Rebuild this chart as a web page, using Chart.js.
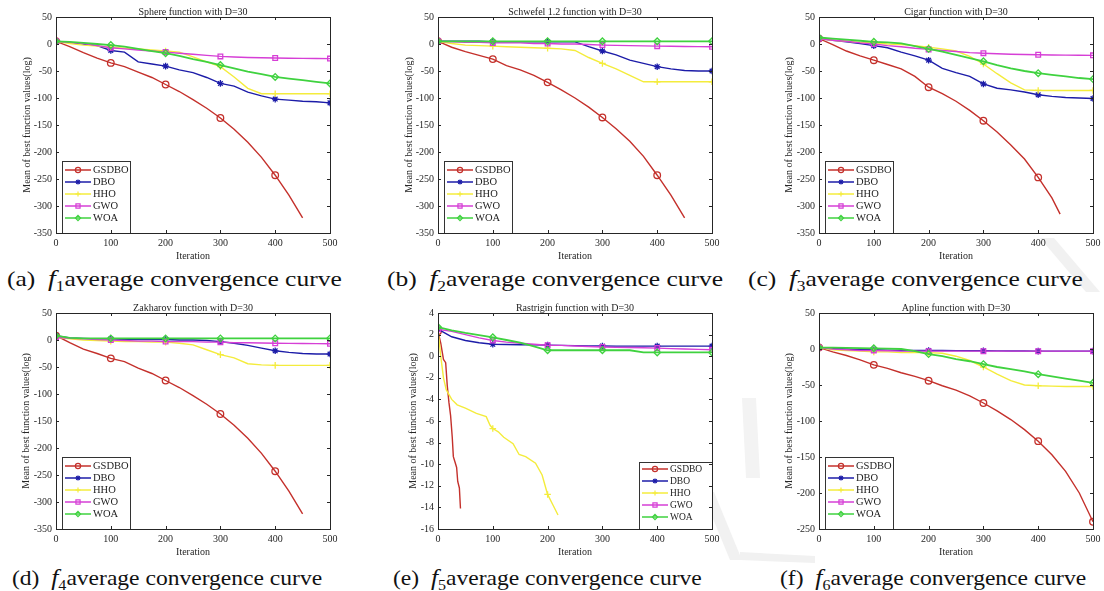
<!DOCTYPE html>
<html>
<head>
<meta charset="utf-8">
<script src="https://cdn.jsdelivr.net/npm/chart.js@4.4.1/dist/chart.umd.min.js"></script>
<style>
body { margin: 0; background: #fff; width: 1104px; height: 591px; position: relative; overflow: hidden;
       font-family: "Liberation Serif", "Times New Roman", serif; }
canvas { position: absolute; }
#wm { position: absolute; left: 0; top: 0; }
.cap { position: absolute; font-size: 22px; line-height: 24px; color: #111; white-space: nowrap;
       transform: scaleX(1.16); transform-origin: 0 50%; }
.cap.low { transform: scaleX(1.07); }
.cap i { font-size: 24px; }
.cap sub { font-size: 15px; line-height: 0; vertical-align: -0.35em; }
</style>
</head>
<body>
<svg id="wm" width="1104" height="591">
  <polygon points="1040,238 1054,238 1100,292 1086,292" fill="#f1f1f1"/>
  <polygon points="702,492 714,492 742,560 730,560" fill="#f1f1f1"/>
  <polygon points="742,398 756,398 760,478 746,478" fill="#f3f3f3"/>
  <polygon points="740,552 815,556 815,563 740,560" fill="#f1f1f1"/>
</svg>

<div class="cap" style="left:7px;top:266px">(a)&nbsp;&nbsp;<i>f</i><sub>1</sub>average convergence curve</div>
<div class="cap" style="left:387px;top:266px">(b)&nbsp;&nbsp;<i>f</i><sub>2</sub>average convergence curve</div>
<div class="cap" style="left:748px;top:266px">(c)&nbsp;&nbsp;<i>f</i><sub>3</sub>average convergence curve</div>
<div class="cap low" style="left:12px;top:565px">(d)&nbsp;&nbsp;<i>f</i><sub>4</sub>average convergence curve</div>
<div class="cap low" style="left:393px;top:565px">(e)&nbsp;&nbsp;<i>f</i><sub>5</sub>average convergence curve</div>
<div class="cap low" style="left:780px;top:565px">(f)&nbsp;&nbsp;<i>f</i><sub>6</sub>average convergence curve</div>

<script>
// iteration grid shared by most curves
const iters = [0, 25, 50, 75, 100, 125, 150, 175, 200, 225, 250, 275, 300, 325, 350, 375, 400, 425, 450, 475, 500];

const seriesNames = ['GSDBO', 'DBO', 'HHO', 'GWO', 'WOA'];

// (a) Sphere
const sphereGSDBO = [5, -5, -16, -26, -35, -42, -52, -62, -75, -88, -103, -119, -137, -158, -182, -210, -243, -280, -322];
const sphereDBO = [5, 3, 0, -3, -12, -15, -33, -37, -41, -48, -53, -62, -73, -78, -89, -96, -102, -104, -106, -107, -109];
const sphereHHO = [5, 1, -2, -4, -6, -8, -9, -11, -13, -15, -24, -33, -42, -61, -82, -92, -92, -92, -92, -92, -92];
const sphereGWO = [5, 3, 1, -3, -7, -9, -11, -13, -15, -17, -19, -21, -23, -24, -25, -25.5, -26, -26.3, -26.6, -26.8, -27];
const sphereWOA = [5, 4, 2, 0, -2, -5, -9, -13, -17, -22, -28, -33, -39, -45, -51, -56, -61, -64, -67, -70, -73];

// (b) Schwefel 1.2
const schwefelGSDBO = [5, -6, -14, -21, -28, -40, -48, -58, -71, -85, -100, -117, -136, -157, -180, -208, -243, -280, -322];
const schwefelDBO = [5, 5, 5, 5, 4, 4, 4, 4, 4, 4, 4, -5, -13, -20, -30, -36, -42, -46, -49, -50, -50];
const schwefelHHO = [5, 1, -2, -3, -4, -5, -6, -7, -8, -9, -12, -25, -36, -46, -58, -70, -70, -70, -70, -70, -70];
const schwefelGWO = [5, 4, 3, 3, 2, 2, 2, 1, 1, 0, 0, -1, -2, -2.5, -3, -3.5, -4, -4.3, -4.6, -4.8, -5];
const schwefelWOA = [5, 5, 5, 5, 5, 5, 5, 5, 5, 5, 5, 5, 5, 5, 5, 5, 5, 5, 5, 5, 5];

// (c) Cigar
const cigarGSDBOIters = [0, 25, 50, 75, 100, 125, 150, 175, 200, 225, 250, 275, 300, 325, 350, 375, 400, 425, 440];
const cigarGSDBO = [10, -1, -13, -22, -30, -38, -46, -60, -80, -92, -106, -123, -142, -163, -187, -213, -247, -285, -315];
const cigarDBO = [10, 7, 4, 1, -3, -7, -15, -22, -30, -45, -53, -60, -74, -82, -85, -89, -94, -97, -99, -100, -101];
const cigarHHO = [10, 7, 5, 3, 2, 0, -1, -3, -6, -9, -13, -23, -37, -55, -72, -85, -86, -86, -86, -86, -86];
const cigarGWO = [10, 7, 5, 2, 0, -3, -5, -8, -10, -12, -14, -16, -17, -18, -19, -19.5, -20, -20.3, -20.6, -20.8, -21];
const cigarWOA = [12, 10, 8, 6, 4, 3, 1, -4, -9, -14, -20, -26, -32, -39, -45, -50, -54, -57, -60, -63, -65];

// (d) Zakharov
const zakharovGSDBO = [8, -5, -17, -25, -34, -40, -52, -62, -75, -88, -103, -119, -137, -158, -182, -210, -243, -280, -322];
const zakharovDBO = [8, 4, 3, 2, 2, 1, 1, 1, 1, 0, 0, -1, -3, -6, -10, -15, -20, -23, -25, -26, -26];
const zakharovHHO = [5, 2, 0, -1, -2, -3, -3, -4, -4, -6, -9, -18, -27, -33, -44, -46, -47, -47, -47, -47, -47];
const zakharovGWO = [5, 3, 2, 1, 0, -1, -2, -2, -3, -3, -3, -4, -4, -5, -5, -5.5, -6, -6.3, -6.6, -6.8, -7];
const zakharovWOA = [8, 4, 3, 3, 3, 3, 3, 3, 3, 3, 3, 3, 3, 3, 3, 3, 3, 3, 3, 3, 3];

// (e) Rastrigin
const rastriginGSDBOIters = [0, 5, 10, 14, 17, 20, 23, 26, 28, 31, 34, 36, 39, 41];
const rastriginGSDBO = [2.3, 1.2, -0.3, -0.6, -2.8, -4.3, -5.5, -7.5, -9.3, -9.8, -10.3, -11.6, -12.2, -14.1];
const rastriginHHOIters = [0, 5, 10, 15, 25, 35, 50, 70, 88, 95, 100, 110, 120, 137, 148, 160, 178, 190, 200, 210, 219];
const rastriginHHO = [2.5, 0, -2, -3.1, -4, -4.5, -4.8, -5.3, -5.6, -6.4, -6.7, -7, -7.5, -8.1, -9.1, -9.3, -9.9, -11, -12.8, -13.8, -14.7];
const rastriginDBO = [2.5, 1.8, 1.45, 1.25, 1.1, 1.08, 1.06, 1.05, 1.03, 1.0, 0.98, 0.96, 0.94, 0.93, 0.93, 0.93, 0.93, 0.93, 0.93, 0.93, 0.93];
const rastriginGWO = [2.5, 2.3, 2.0, 1.7, 1.45, 1.3, 1.2, 1.1, 1.02, 1.0, 0.95, 0.9, 0.85, 0.82, 0.8, 0.78, 0.75, 0.7, 0.67, 0.63, 0.6];
const rastriginWOA = [2.7, 2.4, 2.15, 1.95, 1.75, 1.5, 1.25, 0.9, 0.55, 0.55, 0.55, 0.55, 0.55, 0.55, 0.55, 0.35, 0.35, 0.35, 0.35, 0.35, 0.35];

// (f) Apline
const aplineGSDBO = [2, -4, -9, -15, -22, -27, -33, -38, -44, -51, -57, -65, -75, -86, -98, -112, -128, -147, -170, -200, -240];
const aplineDBO = [2, 1, 0, -1, -1, -1.5, -2, -2, -2, -2, -2.2, -2.4, -2.5, -2.6, -2.7, -2.8, -2.9, -3, -3, -3, -3];
const aplineHHO = [2, -1, -2, -3, -4, -4, -5, -5, -5, -6, -10, -16, -25, -35, -44, -50, -51, -51.5, -52, -52, -52];
const aplineGWO = [2, 0, -1, -2, -2, -2.5, -3, -3, -3, -3, -3, -3, -3, -3, -3, -3, -3, -3, -3, -3, -3];
const aplineWOA = [2, 2, 1.5, 1.2, 1, 0.5, 0, -3, -7, -10, -14, -17, -21, -25, -28, -31, -35, -38, -41, -44, -47];

const seriesColors = ['#c4302b', '#1c1ca8', '#f4ec3c', '#d63fd6', '#3fd23f'];
const seriesMarkers = ['circle', 'star', 'cross', 'rect', 'rectRot'];

Chart.defaults.font.family = '"Liberation Serif", "Times New Roman", serif';

function drawMarker(ctx, style, x, y, r) {
    ctx.beginPath();
    if (style === 'circle') {
        ctx.arc(x, y, r, 0, Math.PI * 2);
    } else if (style === 'rect') {
        ctx.rect(x - r * 0.8, y - r * 0.8, r * 1.6, r * 1.6);
    } else if (style === 'rectRot') {
        ctx.moveTo(x, y - r); ctx.lineTo(x + r, y); ctx.lineTo(x, y + r); ctx.lineTo(x - r, y); ctx.closePath();
    } else if (style === 'cross') {
        ctx.moveTo(x - r, y); ctx.lineTo(x + r, y); ctx.moveTo(x, y - r); ctx.lineTo(x, y + r);
    } else {
        ctx.moveTo(x - r, y); ctx.lineTo(x + r, y); ctx.moveTo(x, y - r); ctx.lineTo(x, y + r);
        ctx.moveTo(x - r * 0.7, y - r * 0.7); ctx.lineTo(x + r * 0.7, y + r * 0.7);
        ctx.moveTo(x - r * 0.7, y + r * 0.7); ctx.lineTo(x + r * 0.7, y - r * 0.7);
    }
    ctx.stroke();
}

// MATLAB-like box, inward ticks, title and legend
const boxPlugin = {
    id: 'matlabBox',
    afterDatasetsDraw(chart, args, opts) {
        const { ctx, chartArea: a, scales: { x, y } } = chart;
        ctx.save();

        // legend
        const lw = opts.legendRight ? 73 : 68;
        const lh = opts.legendRight ? 67 : 72;
        const lx = opts.legendRight ? Math.round(a.right) - lw : Math.round(a.left) + 6;
        const ly = Math.round(a.bottom) - lh;
        const first = opts.legendRight ? 7 : 9;
        ctx.fillStyle = '#fff';
        ctx.fillRect(lx, ly, lw, lh);
        ctx.strokeStyle = '#333';
        ctx.lineWidth = 1;
        ctx.strokeRect(lx + 0.5, ly + 0.5, lw, lh);
        ctx.font = (opts.legendRight ? '9.5px' : '10.5px') + ' "Liberation Serif", serif';
        ctx.textBaseline = 'middle';
        ctx.textAlign = 'left';
        seriesNames.forEach((n, i) => {
            const yy = ly + first + i * 12;
            ctx.strokeStyle = seriesColors[i];
            ctx.lineWidth = 1.5;
            ctx.beginPath();
            ctx.moveTo(lx + 3, yy); ctx.lineTo(lx + 29, yy);
            ctx.stroke();
            ctx.lineWidth = 1.2;
            drawMarker(ctx, seriesMarkers[i], lx + 16, yy, 2.6);
            ctx.fillStyle = '#222';
            ctx.fillText(n, lx + 31, yy + 0.5);
        });

        // box and inward ticks
        ctx.strokeStyle = '#262626';
        ctx.lineWidth = 1;
        ctx.beginPath();
        x.ticks.forEach(t => {
            const px = Math.round(x.getPixelForValue(t.value)) + 0.5;
            ctx.moveTo(px, a.bottom); ctx.lineTo(px, a.bottom - 3);
            ctx.moveTo(px, a.top); ctx.lineTo(px, a.top + 3);
        });
        y.ticks.forEach(t => {
            const py = Math.round(y.getPixelForValue(t.value)) + 0.5;
            ctx.moveTo(a.left, py); ctx.lineTo(a.left + 3, py);
            ctx.moveTo(a.right, py); ctx.lineTo(a.right - 3, py);
        });
        ctx.stroke();
        ctx.strokeRect(Math.round(a.left) + 0.5, Math.round(a.top) + 0.5, Math.round(a.width), Math.round(a.height));

        // title
        ctx.fillStyle = '#222';
        ctx.font = '10px "Liberation Serif", serif';
        ctx.textAlign = 'center';
        ctx.textBaseline = 'bottom';
        ctx.fillText(opts.title, (a.left + a.right) / 2, a.top);
        ctx.restore();
    }
};

const panels = [
    { left: 56, top: 17, L: 35, title: 'Sphere function with D=30', yMin: -350, yMax: 50, yStep: 50,
      series: [[iters, sphereGSDBO], [iters, sphereDBO], [iters, sphereHHO], [iters, sphereGWO], [iters, sphereWOA]] },
    { left: 438, top: 17, L: 35, title: 'Schwefel 1.2 function with D=30', yMin: -350, yMax: 50, yStep: 50,
      series: [[iters, schwefelGSDBO], [iters, schwefelDBO], [iters, schwefelHHO], [iters, schwefelGWO], [iters, schwefelWOA]] },
    { left: 819, top: 17, L: 36, title: 'Cigar function with D=30', yMin: -350, yMax: 50, yStep: 50,
      series: [[cigarGSDBOIters, cigarGSDBO], [iters, cigarDBO], [iters, cigarHHO], [iters, cigarGWO], [iters, cigarWOA]] },
    { left: 56, top: 313, L: 36, title: 'Zakharov function with D=30', yMin: -350, yMax: 50, yStep: 50,
      series: [[iters, zakharovGSDBO], [iters, zakharovDBO], [iters, zakharovHHO], [iters, zakharovGWO], [iters, zakharovWOA]] },
    { left: 438, top: 313, L: 31, title: 'Rastrigin function with D=30', yMin: -16, yMax: 4, yStep: 2, legendRight: true,
      series: [[rastriginGSDBOIters, rastriginGSDBO], [iters, rastriginDBO], [rastriginHHOIters, rastriginHHO], [iters, rastriginGWO], [iters, rastriginWOA]] },
    { left: 819, top: 313, L: 36, title: 'Apline function with D=30', yMin: -250, yMax: 50, yStep: 50,
      series: [[iters, aplineGSDBO], [iters, aplineDBO], [iters, aplineHHO], [iters, aplineGWO], [iters, aplineWOA]] }
];

panels.forEach(p => {
    const cv = document.createElement('canvas');
    cv.width = p.L + 274 + 14;
    cv.height = 17 + 216 + 29;
    cv.style.left = (p.left - p.L) + 'px';
    cv.style.top = (p.top - 17) + 'px';
    document.body.appendChild(cv);

    new Chart(cv, {
        type: 'line',
        data: {
            datasets: p.series.map((s, k) => ({
                label: seriesNames[k],
                data: s[1].map((v, j) => ({ x: s[0][j], y: v })),
                borderColor: seriesColors[k],
                borderWidth: k === 4 ? 1.8 : 1.4,
                pointStyle: seriesMarkers[k],
                pointRadius: c => (c.raw && c.raw.x % 100 === 0 ? 3.3 : 0),
                pointBorderColor: seriesColors[k],
                pointBackgroundColor: 'rgba(0,0,0,0)',
                pointBorderWidth: 1.3,
                tension: 0,
                order: 4 - k
            }))
        },
        options: {
            responsive: false,
            animation: false,
            devicePixelRatio: 1,
            layout: { padding: { top: 17, right: 14, left: 0, bottom: 0 } },
            plugins: {
                legend: { display: false },
                tooltip: { enabled: false },
                matlabBox: { title: p.title, legendRight: !!p.legendRight }
            },
            scales: {
                x: {
                    type: 'linear', min: 0, max: 500,
                    afterFit: s => { s.height = 29; },
                    ticks: { stepSize: 100, padding: 4, color: '#262626', font: { size: 10 }, maxRotation: 0 },
                    grid: { display: false, drawTicks: false },
                    border: { display: false },
                    title: { display: true, text: 'Iteration', padding: 0, color: '#262626', font: { size: 10 } }
                },
                y: {
                    type: 'linear', min: p.yMin, max: p.yMax,
                    afterFit: s => { s.width = p.L; },
                    ticks: { stepSize: p.yStep, padding: 4, color: '#262626', font: { size: 10 } },
                    grid: { display: false, drawTicks: false },
                    border: { display: false },
                    title: { display: true, text: 'Mean of best function values(log)', padding: 0, color: '#262626', font: { size: 10 } }
                }
            }
        },
        plugins: [boxPlugin]
    });
});
</script>
</body>
</html>
